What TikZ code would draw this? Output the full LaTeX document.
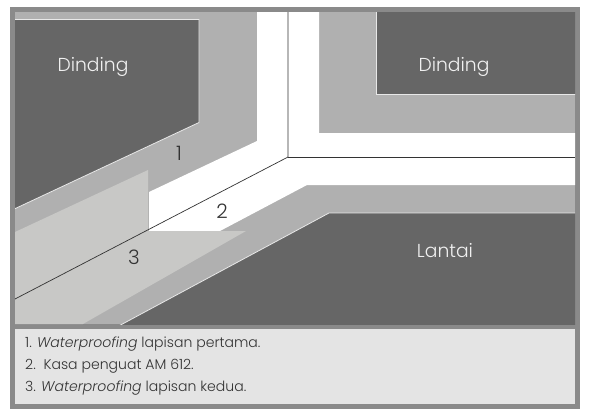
\documentclass[tikz,border=0pt]{standalone}
\usepackage{fontspec}
\setmainfont{Poppins}[UprightFont=* Light,ItalicFont=* Light Italic]
\definecolor{frame}{HTML}{8A8A8A}
\definecolor{wall}{HTML}{666666}
\definecolor{layerone}{HTML}{B0B0B0}
\definecolor{layertwo}{HTML}{C8C8C6}
\definecolor{legendbg}{HTML}{E4E4E4}
\definecolor{ink}{HTML}{333333}
\begin{document}
\begin{tikzpicture}[
  x=0.03cm, y=-0.03cm,
  wall/.style={fill=wall, draw=white!85!wall, line width=0.7pt},
  seam/.style={draw=ink, line width=0.6pt},
  lbl/.style={font=\fontsize{16}{18}\selectfont, text=white!90!wall},
  num/.style={font=\fontsize{17}{18}\selectfont, text=ink},
  legend/.style={font=\fontsize{12}{14}\selectfont, text=ink, anchor=west, inner sep=0pt}
]
  \useasboundingbox (0,0) rectangle (591,419);
  \fill[frame] (10,7) rectangle (580,409);
  \fill[layerone] (15,12) rectangle (575,324);
  \fill[legendbg] (15,329) rectangle (575,404);

  % membrane strip
  \fill[white] (257,12) -- (319,12) -- (319,133) -- (575,133) -- (575,185) -- (307,185)
    -- (220,231) -- (149,231) -- (149,192) -- (257,141) -- cycle;
  % second coat
  \fill[layertwo] (15,232) -- (148,170) -- (148,231) -- (246,231) -- (83,324) -- (15,324) -- cycle;

  % walls and floor
  \begin{scope}
    \clip (15,12) rectangle (575,324);
    \draw[wall] (10,19.5) -- (199,19.5) -- (199,122.5) -- (10,211) -- cycle;
    \draw[wall] (376,8) -- (376,94) -- (580,94) -- (580,8) -- cycle;
    \draw[wall] (329,213) -- (580,213) -- (580,328) -- (115,328) -- cycle;
  \end{scope}

  % fold lines
  \draw[seam] (288,12) -- (288,157) -- (15,299);
  \draw[seam] (288,157) -- (575,157);

  \node[lbl] (wallleft)  at (93,67)   {Dinding};
  \node[lbl] (wallright) at (454,67)  {Dinding};
  \node[lbl] (floor)     at (445,251) {Lantai};
  \node[num] (one)   at (179,153) {1};
  \node[num] (two)   at (222,211) {2};
  \node[num] (three) at (134,257) {3};

  \node[legend] (itemone)   at (25,344.5) {1. \emph{Waterproofing} lapisan pertama.};
  \node[legend] (itemtwo)   at (25,366) {2.\ \ Kasa penguat AM 612.};
  \node[legend] (itemthree) at (25,388.5) {3. \emph{Waterproofing} lapisan kedua.};
\end{tikzpicture}
\end{document}
